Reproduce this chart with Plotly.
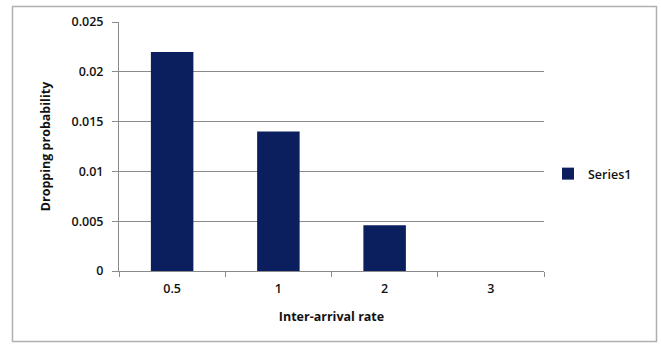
import plotly.graph_objects as go

# Dropping probability per inter-arrival rate
categories = ["0.5", "1", "2", "3"]
dropping_prob = [0.022, 0.014, 0.0046, 0.0]
y_ticks = [0, 0.005, 0.01, 0.015, 0.02, 0.025]
y_tick_labels = ["0", "0.005", "0.01", "0.015", "0.02", "0.025"]

W, H = 661, 345
L, R, T, B = 119, 117, 22, 74
pw, ph = W - L - R, H - T - B

def px_x(x):
    return (x - L) / pw

def px_y(y):
    return (H - B - y) / ph

font_family = "Open Sans, DejaVu Sans, sans-serif"
text_color = "#111"
label_font = dict(size=12.5, color=text_color, weight=600)

fig = go.Figure()
fig.add_trace(go.Bar(
    x=categories,
    y=dropping_prob,
    name="Series1",
    marker=dict(color="#0b1f5e", line=dict(width=0)),
    showlegend=True,
))

fig.update_layout(
    width=W,
    height=H,
    margin=dict(l=L, r=R, t=T, b=B),
    paper_bgcolor="white",
    plot_bgcolor="white",
    bargap=0.6,
    font=dict(family=font_family, size=12, color=text_color),
    showlegend=True,
    legend=dict(
        x=px_x(548), y=px_y(174), xanchor="left", yanchor="middle",
        font=label_font,
        bgcolor="rgba(0,0,0,0)",
        itemwidth=30,
    ),
    xaxis=dict(
        type="category",
        showline=True, linecolor="#8a8a8a", linewidth=1,
        ticks="outside", tickson="boundaries", ticklen=5, tickcolor="#8a8a8a",
        ticklabelstandoff=6,
        showgrid=False, zeroline=False,
        tickfont=label_font,
        title=dict(text="<b>Inter-arrival rate</b>", font=dict(size=12.5, color=text_color), standoff=16),
    ),
    yaxis=dict(
        range=[0, 0.025],
        tickvals=y_ticks, ticktext=y_tick_labels,
        showline=True, linecolor="#8a8a8a", linewidth=1,
        ticks="outside", ticklen=6, tickcolor="#8a8a8a",
        ticklabelstandoff=6,
        showgrid=True, gridcolor="#8a8a8a", gridwidth=1,
        zeroline=False,
        tickfont=label_font,
        title=dict(text="<b>Dropping probability</b>", font=dict(size=12.5, color=text_color), standoff=18),
    ),
    shapes=[dict(
        type="rect", xref="paper", yref="paper",
        x0=px_x(12.5), x1=px_x(656.5), y0=px_y(341.5), y1=px_y(6.5),
        line=dict(color="#b0b0b0", width=1.5), fillcolor="rgba(0,0,0,0)", layer="below",
    )],
)

fig.write_html("out.html")
